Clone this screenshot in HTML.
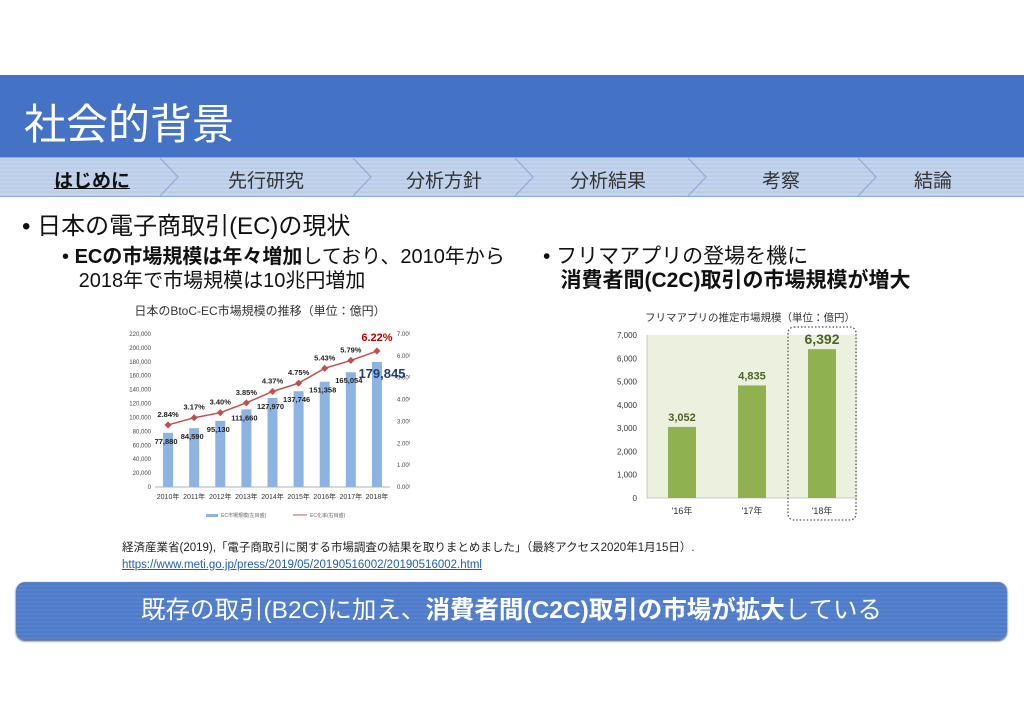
<!DOCTYPE html>
<html><head><meta charset="utf-8">
<style>
body{margin:0;width:1024px;height:724px;background:#fff;position:relative;overflow:hidden;font-family:"Liberation Sans","Noto Sans CJK JP",sans-serif;}
.abs{position:absolute;}
#hdr{left:0;top:75px;width:1024px;height:82px;background:#4472c4;}
#hdr span{position:absolute;left:24px;top:16px;color:#fff;font-size:42px;}
#nav{left:0;top:157px;width:1024px;height:38px;background:repeating-linear-gradient(180deg,#c9d8ee 0px,#b4c9e7 2px,#c9d8ee 4px);border-top:1px solid #8eaadb;border-bottom:1px solid #8eaadb;}
.tab{position:absolute;top:8px;font-size:19px;color:#333;}
.bul{font-size:24px;color:#111;}
.sub{font-size:20px;color:#111;line-height:24px;}
#banner{left:16px;top:582px;width:991px;height:58px;border-radius:9px;background:repeating-linear-gradient(180deg,#5a85d0 0px,#4a77c8 2px,#5a85d0 4px);box-shadow:0 1px 2px #345;color:#fff;font-size:24.5px;text-align:center;line-height:58px;}
</style></head><body>
<div id="hdr" class="abs"><span>社会的背景</span></div>
<div id="nav" class="abs">
<svg class="abs" style="left:0;top:0" width="1024" height="38">
<g fill="none" stroke="#8eaadb" stroke-width="1.2">
<polyline points="160,0 178,19 160,38"/><polyline points="353,0 371,19 353,38"/><polyline points="515,0 533,19 515,38"/><polyline points="688,0 706,19 688,38"/><polyline points="858,0 876,19 858,38"/></g></svg>
<span class="tab" style="left:54px;font-weight:bold;text-decoration:underline;color:#111">はじめに</span>
<span class="tab" style="left:228px">先行研究</span>
<span class="tab" style="left:406px">分析方針</span>
<span class="tab" style="left:570px">分析結果</span>
<span class="tab" style="left:762px">考察</span>
<span class="tab" style="left:914px">結論</span>
</div>
<div class="abs bul" style="left:22px;top:206px">• 日本の電子商取引(EC)の現状</div>
<div class="abs sub" style="left:62px;top:245px">• <b>ECの市場規模は年々増加</b>しており、2010年から<br>&nbsp;&nbsp;&nbsp;2018年で市場規模は10兆円増加</div>
<div class="abs sub" style="left:543px;top:245px;font-size:21px">• フリマアプリの登場を機に<br>&nbsp;&nbsp;&nbsp;<b>消費者間(C2C)取引の市場規模が増大</b></div>

<svg id="lc" class="abs" style="left:110px;top:295px" width="300" height="230"></svg>
<svg id="rc" class="abs" style="left:590px;top:300px" width="280" height="225"></svg>

<div class="abs" style="left:122px;top:540px;font-size:11.5px;color:#222;line-height:17px">経済産業省(2019),「電子商取引に関する市場調査の結果を取りまとめました」（最終アクセス2020年1月15日）.<br><span style="color:#1f5fb0;text-decoration:underline">https://www.meti.go.jp/press/2019/05/20190516002/20190516002.html</span></div>
<div id="banner" class="abs">既存の取引(B2C)に加え、<b>消費者間(C2C)取引の市場が拡大</b>している</div>

<script>
const lYears=["2010年","2011年","2012年","2013年","2014年","2015年","2016年","2017年","2018年"];
const lSales=[77880,84590,95130,111660,127970,137746,151358,165054,179845];
const lRate=[2.84,3.17,3.40,3.85,4.37,4.75,5.43,5.79,6.22];
const lLeftTicks=[0,20000,40000,60000,80000,100000,120000,140000,160000,180000,200000,220000];
const lRightTicks=[0,1,2,3,4,5,6,7];
const rYears=["'16年","'17年","'18年"];
const rVals=[3052,4835,6392];
const rTicks=[0,1000,2000,3000,4000,5000,6000,7000];
const NS="http://www.w3.org/2000/svg";
function mk(p,t,a,txt){const e=document.createElementNS(NS,t);for(const k in a)e.setAttribute(k,a[k]);if(txt!=null)e.textContent=txt;p.appendChild(e);return e;}
const fmt=v=>v.toLocaleString("en-US");
(function(){
const s=document.getElementById("lc");
const x0=45,x1=280,yb=192,yt=39;
const yL=v=>yb-(v/220000)*(yb-yt), yR=v=>yb-(v/7)*(yb-yt);
const bw=(x1-x0)/lYears.length, xc=i=>x0+bw*(i+0.5);
let t=mk(s,"text",{x:150,y:20,"text-anchor":"middle","font-size":"12",fill:"#333"},"日本のBtoC-EC市場規模の推移（単位：億円）");


mk(s,"line",{x1:x0,y1:yb,x2:x1,y2:yb,stroke:"#999","stroke-width":0.8});
lLeftTicks.forEach(v=>{const e=mk(s,"text",{x:41,y:yL(v)+2,"text-anchor":"end","font-size":"6","fill":"#444"},fmt(v));});
lRightTicks.forEach(v=>{const e=mk(s,"text",{x:287,y:yR(v)+2,"font-size":"6",fill:"#444"},v.toFixed(2)+"%");});
lSales.forEach((v,i)=>{
 const b=mk(s,"rect",{x:xc(i)-5,y:yL(v),width:10,height:yb-yL(v),fill:"#8db3e2"});
 
 
 const big=i===lSales.length-1;
 const l=mk(s,"text",{x:big?xc(i)+5:xc(i)-2,y:big?yL(v)+16:yL(v)+11,"text-anchor":"middle","font-size":big?"13":"7.5","font-weight":"bold",fill:big?"#1f3f7a":"#222"},fmt(v));
 
 
 const x=mk(s,"text",{x:xc(i),y:yb+12,"text-anchor":"middle","font-size":"7","fill":"#333"},lYears[i]);
 
 
});
const pts=lRate.map((v,i)=>xc(i)+","+yR(v)).join(" ");
const pl=mk(s,"polyline",{points:pts,fill:"none",stroke:"#c0504d","stroke-width":1.5});


lRate.forEach((v,i)=>{
 const m=mk(s,"rect",{x:xc(i)-2.5,y:yR(v)-2.5,width:5,height:5,fill:"#c0504d",transform:`rotate(45 ${xc(i)} ${yR(v)})`});
 
 
 const big=i===lRate.length-1;
 const l=mk(s,"text",{x:xc(i),y:yR(v)-(big?10:8),"text-anchor":"middle","font-size":big?"11":"7.5","font-weight":"bold",fill:big?"#c00000":"#222"},v.toFixed(2)+"%");
 
 
});
mk(s,"rect",{x:96,y:219,width:12,height:3,fill:"#8db3e2"});
mk(s,"text",{x:111,y:222,"font-size":"5",fill:"#666"},"EC市場規模(左目盛)");
mk(s,"line",{x1:183,y1:220,x2:197,y2:220,stroke:"#c0504d","stroke-width":1});
mk(s,"text",{x:200,y:222,"font-size":"5",fill:"#666"},"EC化率(右目盛)");
})();
(function(){
const s=document.getElementById("rc");
const x0=57,x1=267,yb=198,yt=35;
const y=v=>yb-(v/7000)*(yb-yt);
const bw=(x1-x0)/rYears.length, xc=i=>x0+bw*(i+0.5);
const t=mk(s,"text",{x:160,y:21,"text-anchor":"middle","font-size":"10.5",fill:"#333"},"フリマアプリの推定市場規模（単位：億円）");


mk(s,"rect",{x:x0,y:yt,width:x1-x0,height:yb-yt,fill:"#ebf1de"});
mk(s,"line",{x1:x0,y1:yt,x2:x0,y2:yb,stroke:"#bbb","stroke-width":0.8});
mk(s,"line",{x1:x0,y1:yb,x2:x1,y2:yb,stroke:"#bbb","stroke-width":0.8});
rTicks.forEach(v=>{const e=mk(s,"text",{x:47,y:y(v)+3,"text-anchor":"end","font-size":"8",fill:"#333"},fmt(v));});
rVals.forEach((v,i)=>{
 const b=mk(s,"rect",{x:xc(i)-14,y:y(v),width:28,height:yb-y(v),fill:"#8fb14f"});
 
 
 const big=i===rVals.length-1;
 const l=mk(s,"text",{x:xc(i),y:y(v)-(big?5:6),"text-anchor":"middle","font-size":big?"14":"11","font-weight":"bold",fill:"#4f6228"},fmt(v));
 
 
 const x=mk(s,"text",{x:xc(i),y:yb+16,"text-anchor":"middle","font-size":"9",fill:"#333"},rYears[i]);
 
 
});
const h=mk(s,"rect",{x:xc(2)-34,y:27,width:68,height:193,rx:6,fill:"none",stroke:"#555","stroke-width":1.3,"stroke-dasharray":"1.5 2"});


})();
</script>
</body></html>
